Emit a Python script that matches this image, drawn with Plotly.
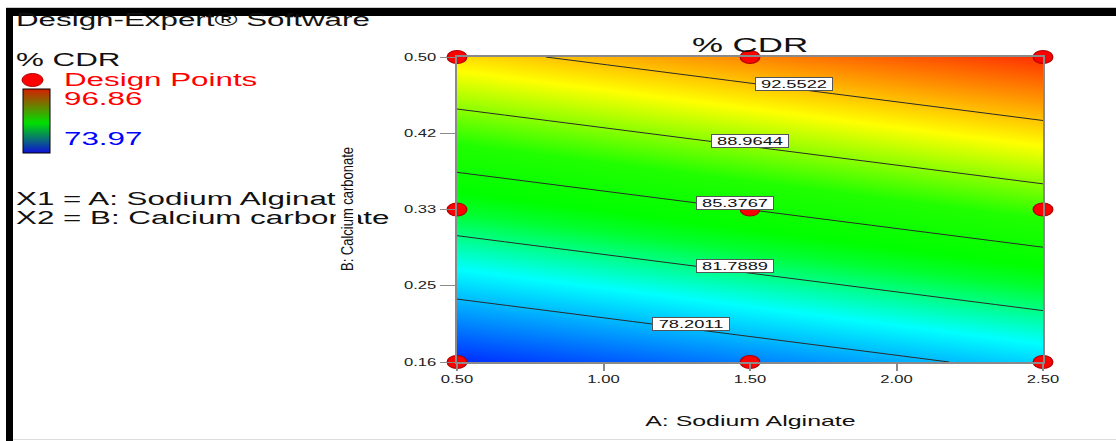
import numpy as np
import plotly.graph_objects as go

# ---------------- data ----------------
A_levels = [0.50, 1.50, 2.50]          # A: Sodium Alginate
B_levels = [0.16, 0.33, 0.50]          # B: Calcium carbonate
cdr_grid = [                           # % CDR, rows = B levels, cols = A levels
    [74.64, 76.76, 78.88],
    [83.27, 85.39, 87.51],
    [91.91, 94.03, 96.15],
]
contour_levels = [78.2011, 81.7889, 85.3767, 88.9644, 92.5522]
cdr_min, cdr_max = 73.97, 96.86
design_A = [0.50, 1.50, 2.50, 0.50, 1.50, 2.50, 0.50, 1.50, 2.50]
design_B = [0.16, 0.16, 0.16, 0.33, 0.33, 0.33, 0.50, 0.50, 0.50]
x_tickvals = [0.50, 1.00, 1.50, 2.00, 2.50]
x_ticktext = ["0.50", "1.00", "1.50", "2.00", "2.50"]
y_tickvals = [0.16, 0.245, 0.33, 0.415, 0.50]
y_ticktext = ["0.16", "0.25", "0.33", "0.42", "0.50"]

# ---------------- layout helpers ----------------
W, H = 1116, 441
ML, MR, MT, MB = 457, 73, 57, 79
PW, PH = W - ML - MR, H - MT - MB


def px2x(px):
    return (px - ML) / PW


def px2y(py):
    return (H - MB - py) / PH


FONT = "Arial, 'Liberation Sans', sans-serif"
surface_scale = [[0.0, "#0010ff"], [0.26, "#00ffff"], [0.40, "#00ff30"], [0.45, "#00ff00"],
                 [0.57, "#20ff00"], [0.75, "#ffff00"], [1.0, "#ff1400"]]
legend_scale = [[0.0, "#1010d8"], [0.47, "#00e000"], [1.0, "#d42000"]]
label_A = [1.30, 1.45, 1.45, 1.50, 1.65]   # label placement along A


def b_on_level(level, a):
    col = [np.interp(a, A_levels, row) for row in cdr_grid]
    return float(np.interp(level, col, B_levels))


fig = go.Figure()
fig.add_trace(go.Heatmap(x=A_levels, y=B_levels, z=cdr_grid, zsmooth="best",
                         colorscale=surface_scale, zmin=cdr_min, zmax=cdr_max,
                         showscale=False, hoverinfo="skip"))
step = (contour_levels[-1] - contour_levels[0]) / (len(contour_levels) - 1)
fig.add_trace(go.Contour(x=A_levels, y=B_levels, z=cdr_grid,
                         contours=dict(start=contour_levels[0], end=contour_levels[-1] + 1e-6,
                                       size=step, coloring="lines", showlabels=False),
                         colorscale=[[0, "#2a2a2a"], [1, "#2a2a2a"]],
                         line=dict(width=1), showscale=False, hoverinfo="skip"))
fig.add_trace(go.Scatter(x=design_A, y=design_B, mode="markers", cliponaxis=False,
                         marker=dict(color="#ff0000", size=13,
                                     line=dict(color="#b00000", width=1)),
                         hoverinfo="skip"))
# legend colour bar
fig.add_trace(go.Scatter(x=[A_levels[0]], y=[B_levels[0]], mode="markers",
                         marker=dict(size=1, opacity=0, color=[cdr_min], cmin=cdr_min,
                                     cmax=cdr_max, colorscale=legend_scale, showscale=True,
                                     colorbar=dict(x=px2x(23), xanchor="left", y=px2y(89),
                                                   yanchor="top", len=64, lenmode="pixels",
                                                   thickness=27, thicknessmode="pixels",
                                                   outlinewidth=1, outlinecolor="#000",
                                                   showticklabels=False, ticks="",
                                                   xpad=0, ypad=0)),
                         hoverinfo="skip"))

ann = []
# contour labels
for lev, a in zip(contour_levels, label_A):
    ann.append(dict(x=a, y=b_on_level(lev, a), xref="x", yref="y", text=f"{lev:.4f}",
                    showarrow=False, yshift=5, width=74, height=10, borderpad=1,
                    bgcolor="#ffffff", bordercolor="#555555", borderwidth=1,
                    font=dict(family=FONT, size=11, color="#111")))
# left panel texts
left_items = [("Design-Expert® Software", 20.5, "#111", 14),
              ("% CDR", 60, "#111", 14),
              ("Design Points", 80, "#ff0000", 62),
              ("96.86", 99, "#ff0000", 62),
              ("73.97", 138.5, "#0000ff", 62),
              ("X1 = A: Sodium Alginate", 198.5, "#111", 14),
              ("X2 = B: Calcium carbonate", 218, "#111", 14)]
for txt, yc, col, xl in left_items:
    ann.append(dict(x=px2x(xl), y=px2y(yc), xref="paper", yref="paper", text=txt,
                    showarrow=False, xanchor="left", yanchor="middle", align="left",
                    font=dict(family=FONT, size=18, color=col)))
# titles
ann.append(dict(x=0.5, y=px2y(44), xref="paper", yref="paper", text="% CDR",
                showarrow=False, xanchor="center", yanchor="middle",
                font=dict(family=FONT, size=21, color="#111")))
ann.append(dict(x=0.5, y=px2y(420), xref="paper", yref="paper", text="A: Sodium Alginate",
                showarrow=False, xanchor="center", yanchor="middle",
                font=dict(family=FONT, size=15, color="#111")))
ann.append(dict(x=px2x(346.5), y=px2y(209), xref="paper", yref="paper",
                text="B: Calcium carbonate", textangle=-90, bgcolor="#ffffff",
                showarrow=False, xanchor="center", yanchor="middle", borderpad=2,
                font=dict(family=FONT, size=16, color="#111")))

shapes = [
    dict(type="rect", xref="paper", yref="paper", x0=px2x(6), x1=px2x(1116),
         y0=px2y(16), y1=px2y(8), fillcolor="#000", line=dict(width=0), layer="above"),
    dict(type="rect", xref="paper", yref="paper", x0=px2x(6), x1=px2x(13),
         y0=px2y(441), y1=px2y(8), fillcolor="#000", line=dict(width=0), layer="above"),
    dict(type="line", xref="paper", yref="paper", x0=px2x(13), x1=px2x(1116),
         y0=px2y(439.5), y1=px2y(439.5), line=dict(color="#dddddd", width=1)),
    dict(type="line", xref="paper", yref="paper", x0=px2x(6), x1=px2x(1116),
         y0=px2y(7.5), y1=px2y(7.5), line=dict(color="#cccccc", width=1)),
    dict(type="circle", xref="paper", yref="paper", x0=px2x(22), x1=px2x(43),
         y0=px2y(86.5), y1=px2y(73.5), fillcolor="#ff0000", line=dict(color="#b00000", width=1)),
]

fig.update_layout(
    width=W, height=H, margin=dict(l=ML, r=MR, t=MT, b=MB, pad=0),
    paper_bgcolor="#ffffff", plot_bgcolor="#ffffff", showlegend=False,
    annotations=ann, shapes=shapes,
    xaxis=dict(range=[A_levels[0], A_levels[-1]], tickvals=x_tickvals, ticktext=x_ticktext,
               ticks="outside", ticklen=7, tickwidth=2, tickcolor="#8a8a8a",
               showline=True, mirror=True, linecolor="#8a8a8a", linewidth=1.5,
               showgrid=False, zeroline=False,
               tickfont=dict(family=FONT, size=10, color="#222")),
    yaxis=dict(range=[B_levels[0], B_levels[-1]], tickvals=y_tickvals, ticktext=y_ticktext,
               ticks="outside", ticklen=15, tickwidth=1, tickcolor="#8a8a8a",
               showline=True, mirror=True, linecolor="#8a8a8a", linewidth=1.5,
               showgrid=False, zeroline=False, ticklabelstandoff=2,
               tickfont=dict(family=FONT, size=10, color="#222")),
)

post = """
document.body.style.margin = '0';
document.body.style.overflow = 'hidden';
var gd = document.getElementById('{plot_id}');
var leftTexts = ['Design-Expert® Software', '% CDR', 'Design Points', '96.86', '73.97',
                 'X1 = A: Sodium Alginate', 'X2 = B: Calcium carbonate'];
gd.querySelectorAll('text').forEach(function(t){
  var s = t.textContent || '';
  if (!s.trim()) return;
  if (s.indexOf('B: Calcium carbonate') === 0) {
    t.setAttribute('textLength', 124); t.setAttribute('lengthAdjust', 'spacingAndGlyphs');
    return;
  }
  var f = 1.66;
  if (leftTexts.indexOf(s) >= 0 && !t.classList.contains('gtitle')) {
    var inAnn = t.closest('.annotation');
    if (inAnn && (s !== '% CDR' || t.getBBox().height < 22)) f = 1.74;
  }
  var L = t.getComputedTextLength();
  if (L > 0) { t.setAttribute('textLength', L * f); t.setAttribute('lengthAdjust', 'spacingAndGlyphs'); }
});
gd.querySelectorAll('.scatterlayer path.point').forEach(function(p){
  var tr = p.getAttribute('transform') || '';
  p.setAttribute('transform', tr + ' scale(1.5,1)');
});
"""
fig.write_html("out.html", post_script=post, config={"displayModeBar": False})
